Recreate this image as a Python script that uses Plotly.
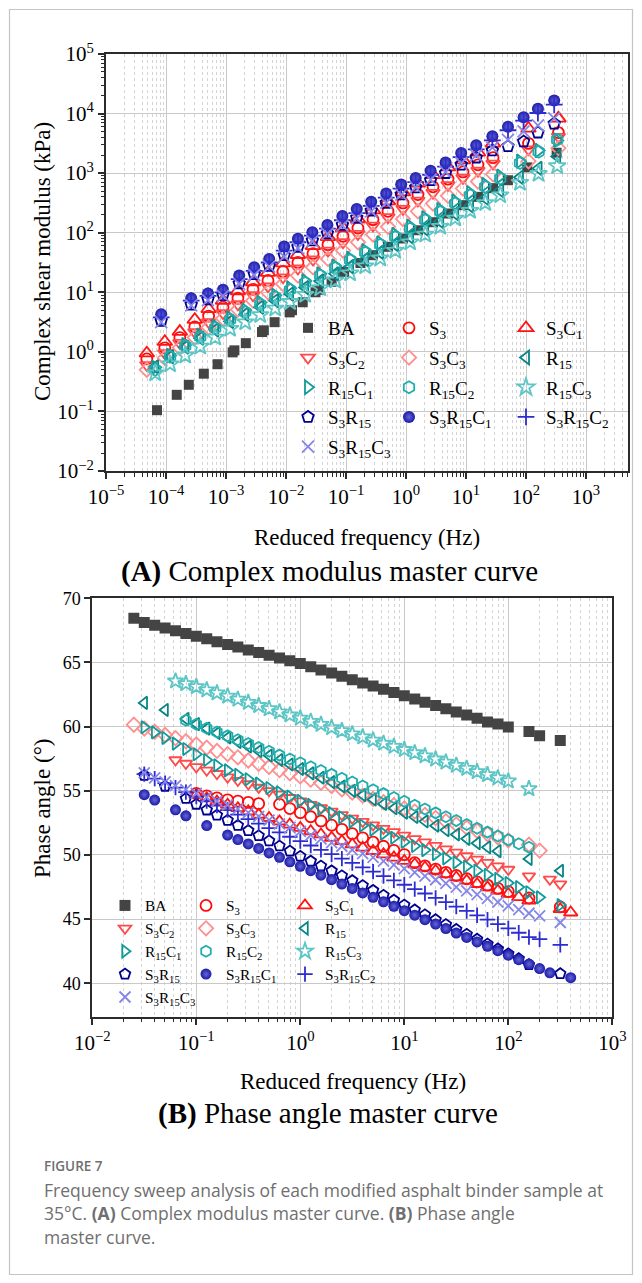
import plotly.graph_objects as go

W, H = 642, 1283
SERIF = "Liberation Serif, Times New Roman, serif"
SANS = "Open Sans, Noto Sans, sans-serif"

# ---------------- Panel A : complex shear modulus (kPa) vs reduced frequency (Hz) ----------------
FA_BA = [7.08e-5, 1.51e-4, 2.40e-4, 4.27e-4, 7.24e-4, 1.29e-3, 1.38e-3, 2.14e-3, 3.98e-3, 4.27e-3,
         6.46e-3, 0.0115, 0.0126, 0.019, 0.031, 0.0347, 0.0575, 0.093, 0.174, 0.282,
         0.5, 0.89, 1.58, 2.82, 5.0, 8.9, 15.8, 28.2, 50, 105, 324]
FA_S3 = [4.79e-5, 9.55e-5, 1.70e-4, 3.02e-4, 5.13e-4, 8.91e-4, 1.58e-3, 2.82e-3, 5.01e-3, 8.91e-3,
         0.0158, 0.0282, 0.0501, 0.0891, 0.158, 0.282, 0.501, 0.891, 1.58, 2.82,
         5.01, 8.91, 15.8, 28.2, 110, 347]
FA_R15 = [6.61e-5, 1.17e-4, 2.09e-4, 3.72e-4, 6.61e-4, 1.17e-3, 2.09e-3, 3.72e-3, 6.61e-3, 0.0117,
          0.0209, 0.0372, 0.0661, 0.117, 0.209, 0.372, 0.661, 1.17, 2.09, 3.72,
          6.61, 11.7, 20.9, 37.2, 79.4, 162, 331]
FA_SR = [8.32e-5, 2.63e-4, 5.01e-4, 8.91e-4, 1.66e-3, 2.95e-3, 5.25e-3, 9.33e-3, 0.0158, 0.0275,
         0.049, 0.0871, 0.151, 0.263, 0.468, 0.832, 1.45, 2.57, 4.57, 8.32,
         14.8, 27.5, 50.1, 91.2, 158, 295]

G_BA = [0.105, 0.19, 0.28, 0.43, 0.62, 0.98, 1.06, 1.4, 2.15, 2.3, 3.15, 4.6, 5.0, 6.8, 10.0, 11.0,
        15, 22, 31, 42, 58, 80, 110, 150, 210, 290, 400, 560, 760, 1250, 2200]
G_S3 = [0.76, 1.17, 1.74, 2.63, 3.98, 5.62, 7.94, 11.2, 15.8, 22.4, 31.6, 44.7, 63.1, 87.1, 120,
        166, 229, 316, 437, 589, 794, 1047, 1380, 1820, 3162, 4786]
G_S3C1 = [0.95, 1.48, 2.19, 3.47, 5.25, 7.24, 10.5, 14.8, 21.4, 30.9, 42.7, 60.3, 85.1, 120, 170,
          240, 339, 479, 676, 933, 1259, 1660, 2239, 3162, 5623, 8318]
G_S3C2 = [0.6, 0.95, 1.41, 2.14, 3.16, 4.47, 6.31, 8.91, 12.6, 17.8, 25.1, 35.5, 50.1, 69.2, 95.5,
          132, 182, 251, 347, 468, 631, 832, 1096, 1445, 2512, 4074]
G_S3C3 = [0.5, 0.79, 1.17, 1.74, 2.57, 3.63, 5.13, 7.24, 10, 13.8, 19.1, 26.3, 36.3, 50.1, 69.2,
          93.3, 126, 170, 229, 309, 417, 550, 724, 955, 1585, 2630]
G_R15 = [0.56, 0.83, 1.2, 1.7, 2.34, 3.24, 4.27, 5.62, 7.24, 9.33, 12, 15.5, 20.4, 26.9, 35.5,
         46.8, 63.1, 85.1, 115, 155, 209, 282, 380, 513, 851, 1202, 1905]
G_R15C1 = [0.55, 0.87, 1.32, 1.91, 2.69, 3.72, 5.01, 6.76, 8.91, 11.7, 15.5, 20.4, 27.5, 37.2, 50.1,
           67.6, 93.3, 129, 178, 245, 339, 468, 646, 891, 1585, 2399, 3548]
G_R15C2 = [0.5, 0.83, 1.26, 1.78, 2.51, 3.47, 4.68, 6.31, 8.32, 11, 14.5, 19.1, 25.7, 34.7, 46.8,
           63.1, 85.1, 117, 162, 224, 309, 427, 589, 813, 1479, 2291, 3631]
G_R15C3 = [0.44, 0.62, 0.87, 1.23, 1.74, 2.45, 3.16, 4.17, 5.37, 6.92, 9.12, 11.7, 15.8, 20.9, 27.5,
           37.2, 50.1, 69.2, 93.3, 126, 174, 234, 316, 427, 692, 977, 1318]
G_S3R15 = [3.31, 6.17, 7.59, 8.91, 14.1, 20, 27.5, 41.7, 57.5, 74.1, 97.7, 135, 178, 234, 316,
           437, 575, 759, 1000, 1380, 1820, 2399, 2818, 3388, 4786, 6761]
G_S3R15C1 = [4.27, 7.94, 9.55, 11, 19.1, 26.3, 36.3, 58.9, 79.4, 102, 135, 191, 251, 331, 457,
             646, 832, 1096, 1514, 2188, 2951, 4169, 6026, 8710, 12023, 16596]
G_S3R15C2 = [3.8, 7.24, 8.71, 10, 16.6, 22.9, 31.6, 50.1, 69.2, 89.1, 117, 162, 214, 282, 389,
             550, 708, 933, 1288, 1862, 2512, 3548, 5248, 7586, 10233, 14125]
G_S3R15C3 = [3.16, 6.03, 7.41, 8.71, 13.8, 19.5, 26.9, 39.8, 55, 72.4, 95.5, 132, 174, 229, 316,
             437, 575, 776, 1047, 1479, 1995, 2692, 3631, 5012, 6310, 8318]

# ---------------- Panel B : phase angle (deg) vs reduced frequency (Hz) ----------------
FREQ_B = [0.0251, 0.0316, 0.0398, 0.0501, 0.0631, 0.0794, 0.1, 0.126, 0.158, 0.2,
          0.251, 0.316, 0.398, 0.501, 0.631, 0.794, 1.0, 1.26, 1.58, 2.0,
          2.51, 3.16, 3.98, 5.01, 6.31, 7.94, 10, 12.6, 15.8, 20,
          25.1, 31.6, 39.8, 50.1, 63.1, 79.4, 100, 126, 158, 200,
          251, 316, 398]
N = None
P_BA = [68.45, 68.11, 67.9, 67.69, 67.48, 67.26, 67.05, 66.84, 66.62, 66.41,
        66.2, 65.98, 65.77, 65.56, 65.35, 65.13, 64.92, 64.67, 64.42, 64.17,
        63.92, 63.66, 63.41, 63.16, 62.91, 62.66, 62.41, 62.16, 61.91, 61.65,
        61.4, 61.15, 60.9, 60.65, 60.36, 60.2, 59.97, N, 59.63, 59.3,
        N, 58.93, N]
P_S3 = [N, N, N, N, N, N, 54.8, 54.6, 54.45, 54.3,
        54.2, 54.1, 54.0, N, 53.95, 53.62, 53.3, 52.98, 52.65, 52.32,
        52.0, 51.66, 51.34, 51.0, 50.68, 50.36, 50.03, 49.4, 49.15, 48.9,
        48.65, 48.4, 48.15, 47.9, 47.65, 47.4, 47.15, N, 46.65, N,
        N, 45.95, N]
P_S3C1 = [N, N, N, N, N, N, 54.68, 54.42, 54.17, 53.91,
          53.65, 53.4, 53.14, 52.88, 52.62, 52.37, 52.11, 51.85, 51.6, 51.34,
          51.08, 50.82, 50.57, 50.31, 50.05, 49.8, 49.54, 49.28, 49.02, 48.77,
          48.51, 48.25, 48.0, 47.74, 47.48, 47.22, 46.97, 46.71, 46.45, N,
          N, 45.78, 45.52]
P_S3C2 = [N, N, N, N, 57.4, 57.13, 56.86, 56.6, 56.33, 56.06,
          55.8, 55.53, 55.26, 55.0, 54.73, 54.46, 54.2, 53.93, 53.66, 53.4,
          53.13, 52.86, 52.6, 52.33, 52.06, 51.8, 51.53, 51.26, 51.0, 50.73,
          50.46, 50.2, 49.93, 49.66, 49.4, 49.13, 48.87, N, 48.35, N,
          48.1, 47.73, N]
P_S3C3 = [60.15, 59.85, 59.6, 59.35, 59.1, 58.86, 58.61, 58.36, 58.11, 57.86,
          57.61, 57.36, 57.11, 56.86, 56.61, 56.36, 56.12, 55.87, 55.62, 55.37,
          55.12, 54.87, 54.62, 54.37, 54.12, 53.88, 53.63, 53.38, 53.13, 52.88,
          52.63, 52.38, 52.13, 51.88, 51.63, 51.38, 51.14, N, 50.8, 50.34,
          N, N, N]
P_R15 = [N, 61.85, N, 61.3, N, 60.6, 60.2, 59.85, 59.5, 59.15,
         58.8, 58.45, 58.1, 57.75, 57.4, 57.05, 56.7, 56.36, 56.02, 55.68,
         55.34, 55.0, 54.66, 54.32, 53.98, 53.64, 53.3, 52.96, 52.62, 52.28,
         51.94, 51.6, 51.26, 50.92, 50.6, 50.3, N, N, 49.69, N,
         N, 48.77, N]
P_R15C1 = [N, 59.95, 59.55, 59.12, 58.68, 58.26, 57.85, 57.4, 56.98, 56.6,
           56.25, 55.9, 55.56, 55.22, 54.88, 54.55, 54.22, 53.9, 53.58, 53.26,
           52.94, 52.62, 52.3, 51.98, 51.66, 51.34, 51.02, 50.7, 50.38, 50.06,
           49.74, 49.42, 49.1, 48.78, 48.46, 48.14, 47.82, 47.5, 47.1, 46.7,
           N, 46.1, N]
P_R15C2 = [N, N, N, N, N, 60.5, 60.18, 59.88, 59.58, 59.28,
           58.98, 58.68, 58.38, 58.08, 57.78, 57.48, 57.18, 56.88, 56.58, 56.28,
           55.98, 55.68, 55.38, 55.08, 54.78, 54.48, 54.18, 53.88, 53.58, 53.28,
           52.98, 52.68, 52.38, 52.08, 51.78, 51.48, 51.18, 50.88, 50.6, N,
           N, N, N]
P_R15C3 = [N, N, N, N, 63.55, 63.35, 63.11, 62.86, 62.62, 62.37,
           62.13, 61.88, 61.64, 61.39, 61.15, 60.9, 60.66, 60.41, 60.17, 59.92,
           59.68, 59.43, 59.19, 58.94, 58.7, 58.45, 58.21, 57.96, 57.72, 57.47,
           57.23, 56.98, 56.74, 56.49, 56.25, 56.0, 55.76, N, 55.16, N,
           N, N, N]
P_S3R15 = [N, 56.2, N, 55.35, N, 54.4, 53.95, 53.5, 53.1, 52.7,
           52.3, 51.9, 51.5, 51.1, 50.7, 50.3, 49.9, 49.52, 49.14, 48.76,
           48.38, 48.0, 47.62, 47.24, 46.86, 46.48, 46.1, 45.72, 45.34, 44.96,
           44.58, 44.2, 43.82, 43.44, 43.06, 42.68, 42.3, 41.92, 41.45, N,
           N, 40.75, N]
P_S3R15C1 = [N, 54.7, 54.28, N, 53.52, 53.05, N, 52.29, N, 51.55,
             51.2, 50.86, 50.51, 50.16, 49.82, 49.47, 49.12, 48.78, 48.43, 48.08,
             47.74, 47.39, 47.04, 46.7, 46.35, 46.0, 45.66, 45.31, 44.96, 44.62,
             44.27, 43.92, 43.58, 43.23, 42.88, 42.54, 42.19, 41.84, 41.5, 41.15,
             40.82, N, 40.44]
P_S3R15C2 = [N, 56.3, 55.95, 55.6, 55.25, 54.9, 54.55, 54.2, 53.85, 53.5,
             53.15, 52.8, 52.45, 52.1, 51.76, 51.42, 51.08, 50.74, 50.4, 50.06,
             49.72, 49.38, 49.04, 48.7, 48.36, 48.02, 47.68, 47.34, 47.0, 46.66,
             46.32, 45.98, 45.64, 45.3, 44.96, 44.62, 44.28, 43.94, 43.6, 43.44,
             N, 43.0, N]
P_S3R15C3 = [N, 56.4, 56.0, 55.7, 55.4, 55.1, 54.8, 54.5, 54.2, 53.9,
             53.6, 53.3, 53.0, 52.71, 52.42, 52.13, 51.84, 51.55, 51.26, 50.97,
             50.68, 50.39, 50.1, 49.81, 49.52, 49.23, 48.94, 48.65, 48.36, 48.07,
             47.78, 47.49, 47.2, 46.91, 46.62, 46.33, 46.04, 45.75, 45.46, 45.26,
             N, 44.74, N]

# tick labels
A_XTICKS = [1e-5, 1e-4, 1e-3, 1e-2, 1e-1, 1, 10, 100, 1000]
A_XLABELS = ["10<sup>−5</sup>", "10<sup>−4</sup>", "10<sup>−3</sup>", "10<sup>−2</sup>",
             "10<sup>−1</sup>", "10<sup>0</sup>", "10<sup>1</sup>", "10<sup>2</sup>", "10<sup>3</sup>"]
A_YTICKS = [1e-2, 1e-1, 1, 10, 100, 1000, 1e4, 1e5]
A_YLABELS = ["10<sup>−2</sup>", "10<sup>−1</sup>", "10<sup>0</sup>", "10<sup>1</sup>",
             "10<sup>2</sup>", "10<sup>3</sup>", "10<sup>4</sup>", "10<sup>5</sup>"]
B_XTICKS = [1e-2, 1e-1, 1, 10, 100, 1000]
B_XLABELS = ["10<sup>−2</sup>", "10<sup>−1</sup>", "10<sup>0</sup>", "10<sup>1</sup>",
             "10<sup>2</sup>", "10<sup>3</sup>"]

NAMES = ["BA", "S3", "S3C1", "S3C2", "S3C3", "R15", "R15C1", "R15C2", "R15C3",
         "S3R15", "S3R15C1", "S3R15C2", "S3R15C3"]
LABELS = ["BA", "S<sub>3</sub>", "S<sub>3</sub>C<sub>1</sub>", "S<sub>3</sub>C<sub>2</sub>",
          "S<sub>3</sub>C<sub>3</sub>", "R<sub>15</sub>", "R<sub>15</sub>C<sub>1</sub>",
          "R<sub>15</sub>C<sub>2</sub>", "R<sub>15</sub>C<sub>3</sub>", "S<sub>3</sub>R<sub>15</sub>",
          "S<sub>3</sub>R<sub>15</sub>C<sub>1</sub>", "S<sub>3</sub>R<sub>15</sub>C<sub>2</sub>",
          "S<sub>3</sub>R<sub>15</sub>C<sub>3</sub>"]
A_X = [FA_BA, FA_S3, FA_S3, FA_S3, FA_S3, FA_R15, FA_R15, FA_R15, FA_R15, FA_SR, FA_SR, FA_SR, FA_SR]
A_Y = [G_BA, G_S3, G_S3C1, G_S3C2, G_S3C3, G_R15, G_R15C1, G_R15C2, G_R15C3,
       G_S3R15, G_S3R15C1, G_S3R15C2, G_S3R15C3]
B_Y = [P_BA, P_S3, P_S3C1, P_S3C2, P_S3C3, P_R15, P_R15C1, P_R15C2, P_R15C3,
       P_S3R15, P_S3R15C1, P_S3R15C2, P_S3R15C3]

# ---------------- styles ----------------
SYMBOLS = ["square", "circle-open", "triangle-up-open", "triangle-down-open", "diamond-open",
           "triangle-left-open", "triangle-right-open", "hexagon-open", "star-open",
           "pentagon-open", "circle", "cross-thin", "x-thin"]
COLORS = ["#444444", "#ff0a0a", "#ff1414", "#ff4a4a", "#ff8f8f", "#078585", "#129a9a",
          "#1fadad", "#5cc6c6", "#00008f", "#1a1aa8", "#2c2cd0", "#8686e8"]
SIZE_A = [10, 11, 13, 12, 11, 12, 12, 12, 13, 12, 12, 12, 12]
SIZE_B = [11, 11, 12, 11, 11, 11, 11, 11, 12, 11, 11, 11, 11]
LEG_COL = [0, 1, 2, 0, 1, 2, 0, 1, 2, 0, 1, 2, 0]

fig = go.Figure()


def marker(i, size):
    m = dict(symbol=SYMBOLS[i], size=size, color=COLORS[i],
             line=dict(color=COLORS[i], width=1.8))
    if SYMBOLS[i] in ("square", "circle"):
        m["line"] = dict(width=0)
    if SYMBOLS[i] == "circle":
        m["gradient"] = dict(type="radial", color="#6666d6")
    return m


for i, name in enumerate(NAMES):
    fig.add_trace(go.Scatter(
        x=A_X[i], y=A_Y[i], mode="markers", name=LABELS[i], marker=marker(i, SIZE_A[i]),
        xaxis="x", yaxis="y", legend=["legend", "legend2", "legend3"][LEG_COL[i]],
        legendgroup="a" + name, cliponaxis=True))
for i, name in enumerate(NAMES):
    fig.add_trace(go.Scatter(
        x=FREQ_B, y=B_Y[i], mode="markers", name=LABELS[i], marker=marker(i, SIZE_B[i]),
        xaxis="x2", yaxis="y2", legend=["legend4", "legend5", "legend6"][LEG_COL[i]],
        legendgroup="b" + name, cliponaxis=True))


def px_x(v):
    return v / W


def px_y(v):
    return 1 - v / H


def minor_vals(lo, hi):
    vals = []
    for e in range(lo, hi + 1):
        for d in range(2, 10):
            vals.append(d * 10.0 ** e)
    return vals


AX = dict(showline=True, mirror=True, linecolor="#2b2b2b", linewidth=2, ticks="outside",
          ticklen=6, tickwidth=1.5, tickcolor="#2b2b2b", showgrid=True, gridcolor="#c9c9c9",
          gridwidth=1, zeroline=False, tickfont=dict(family=SERIF, size=21, color="black"))
MINOR_X = dict(ticks="outside", ticklen=3.5, tickwidth=1.2, tickcolor="#2b2b2b",
               showgrid=True, gridcolor="#d4d4d4", griddash="dot", tickmode="array")

fig.update_layout(
    width=W, height=H, template="none", paper_bgcolor="white", plot_bgcolor="white",
    margin=dict(l=0, r=0, t=0, b=0), showlegend=True,
    xaxis=dict(AX, type="log", range=[-5, 3.7], domain=[px_x(106), px_x(628)], anchor="y",
               tickmode="array", tickvals=A_XTICKS, ticktext=A_XLABELS,
               minor=dict(MINOR_X, tickvals=minor_vals(-5, 3))),
    yaxis=dict(AX, type="log", range=[-2, 5], domain=[px_y(471), px_y(54)], anchor="x",
               tickmode="array", tickvals=A_YTICKS, ticktext=A_YLABELS,
               minor=dict(ticks="outside", ticklen=3.5, tickwidth=1.2, tickcolor="#2b2b2b",
                          showgrid=False, tickmode="array", tickvals=minor_vals(-2, 4))),
    xaxis2=dict(AX, type="log", range=[-2, 3], domain=[px_x(92.3), px_x(612.3)], anchor="y2",
                tickmode="array", tickvals=B_XTICKS, ticktext=B_XLABELS,
                tickfont=dict(family=SERIF, size=21, color="black"),
                minor=dict(MINOR_X, tickvals=minor_vals(-2, 2))),
    yaxis2=dict(AX, range=[37.4, 70], domain=[px_y(1016.7), px_y(598.3)], anchor="x2",
                dtick=5, tick0=0, tickfont=dict(family=SERIF, size=18, color="black")),
)


def leg(xl, yt, fs, gap):
    return dict(x=px_x(xl), y=px_y(yt), xanchor="left", yanchor="top", xref="paper", yref="paper",
                bgcolor="rgba(0,0,0,0)", borderwidth=0, traceorder="grouped", tracegroupgap=gap,
                font=dict(family=SERIF, size=fs, color="black"), itemclick=False)


fig.update_layout(
    legend=leg(288, 309, 19, 2), legend2=leg(389, 309, 19, 2), legend3=leg(506, 309, 19, 2),
    legend4=leg(105, 889, 15.3, 0), legend5=leg(186, 889, 15.3, 0), legend6=leg(285, 889, 15.3, 0),
)


def ann(text, x, y, size, family=SERIF, color="black", xanchor="center", angle=0, weight=None):
    f = dict(family=family, size=size, color=color)
    if weight:
        f["weight"] = weight
    fig.add_annotation(text=text, x=px_x(x), y=px_y(y), xref="paper", yref="paper",
                       xanchor=xanchor, yanchor="middle", showarrow=False, textangle=angle, font=f)


ann("Complex shear modulus (kPa)", 42, 262, 23, angle=-90)
ann("Reduced frequency (Hz)", 367, 537, 23)
ann("<b>(A)</b> Complex modulus master curve", 329, 571, 29)
ann("Phase angle (°)", 42, 808, 23, angle=-90)
ann("Reduced frequency (Hz)", 353, 1081, 23)
ann("<b>(B)</b> Phase angle master curve", 328, 1113, 29)
ann("FIGURE 7", 42, 1166, 13.5, family=SANS, color="#6f6f6f", xanchor="left", weight=600)
ann("Frequency sweep analysis of each modified asphalt binder sample at", 42, 1190, 17.5,
    family=SANS, color="#6f6f6f", xanchor="left")
ann("35°C. <b>(A)</b> Complex modulus master curve. <b>(B)</b> Phase angle", 42, 1213, 17.5,
    family=SANS, color="#6f6f6f", xanchor="left")
ann("master curve.", 42, 1237, 17.5, family=SANS, color="#6f6f6f", xanchor="left")

fig.add_shape(type="rect", xref="paper", yref="paper", x0=px_x(9.5), x1=px_x(632.5),
              y0=px_y(1274.5), y1=px_y(9.5), line=dict(color="#c4c4c4", width=1.2),
              fillcolor="rgba(0,0,0,0)", layer="below")

fig.write_html("out.html")
